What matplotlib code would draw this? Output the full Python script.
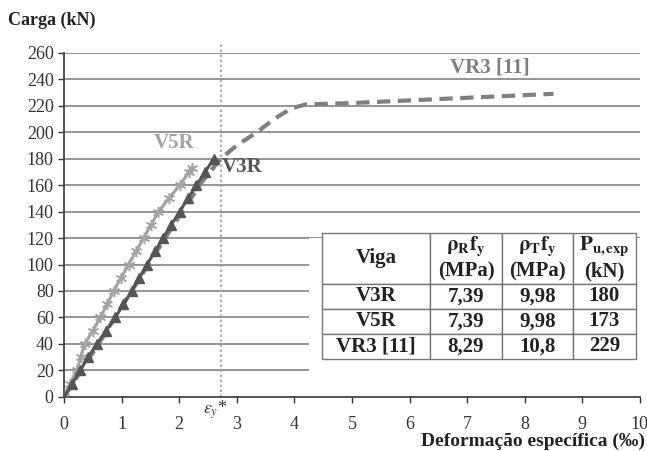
import numpy as np
import matplotlib.pyplot as plt
from matplotlib.patches import Rectangle

plt.rcParams['font.family'] = ['Liberation Serif', 'DejaVu Serif']
plt.rcParams['mathtext.fontset'] = 'stix'

# --- datos ---
v3r_def = [0, 0.14, 0.28, 0.42, 0.57, 0.73, 0.89, 1.03, 1.18, 1.31, 1.44, 1.58, 1.72, 1.86, 2.01, 2.15, 2.30, 2.45, 2.60]
v3r_carga = [0, 10, 20, 30, 40, 50, 60, 70, 80, 90, 100, 110, 120, 130, 140, 150, 160, 170, 180]

v5r_def = [0, 0.10, 0.22, 0.29, 0.36, 0.50, 0.63, 0.75, 0.86, 0.99, 1.12, 1.25, 1.38, 1.51, 1.64, 1.82, 2.01, 2.17, 2.22]
v5r_carga = [0, 10, 20, 30, 40, 50, 60, 70, 80, 90, 100, 110, 120, 130, 140, 150, 160, 170, 173]

vr3_def = [0, 0.6, 1.2, 1.8, 2.35, 2.72, 3.0, 3.35, 3.65, 3.95, 4.2, 5.0, 6.0, 7.0, 8.0, 8.5]
vr3_carga = [0, 40, 82, 123, 160, 180, 190, 200, 210, 218, 221, 222, 224, 226, 228, 229]

eps_y = 2.72

tabla_filas = [['V3R', '7,39', '9,98', '180'],
               ['V5R', '7,39', '9,98', '173'],
               ['VR3 [11]', '8,29', '10,8', '229']]
tabla_cab = ['Viga', '$\\mathbf{\\rho_R f_y}$\n(MPa)', '$\\mathbf{\\rho_T f_y}$\n(MPa)', '$\\mathbf{P_{u,exp}}$\n(kN)']

fig = plt.figure(figsize=(6.47, 4.51), dpi=100, facecolor='white')
ax = fig.add_axes([0.099, 0.12, 0.89, 0.763])

for y in range(20, 261, 20):
    ax.axhline(y, color='#8c8c8c', lw=1.3, zorder=1)
ax.axvline(eps_y, color='#a0a0a0', lw=1.2, ls=(0, (1.5, 1.5)), ymax=1.03, clip_on=False, zorder=2)

ax.plot(vr3_def, vr3_carga, color='#7f7f7f', lw=3, ls=(0, (3.2, 1.8)), zorder=3)
ax.plot(v5r_def, v5r_carga, color='#a3a3a3', lw=2.2, marker=(6, 2, 0), ms=8, mew=1.1, zorder=4)
ax.plot(v3r_def, v3r_carga, color='#555555', lw=2.2, marker='^', ms=7, zorder=5)

ax.text(1.55, 192, 'V5R', color='#a3a3a3', fontsize=15, fontweight='bold', va='center')
ax.text(2.74, 174, 'V3R', color='#555555', fontsize=15, fontweight='bold', va='center')
ax.text(6.7, 249, 'VR3 [11]', color='#7f7f7f', fontsize=15, fontweight='bold', va='center')
ax.text(eps_y - 0.1, -1.5, '$\\varepsilon_y$*', fontsize=13, ha='center', va='top', color='#333333')

ax.set_xlim(0, 10)
ax.set_ylim(0, 260)
ax.set_xticks(range(0, 11))
ax.set_yticks(range(0, 261, 20))
ax.tick_params(labelsize=13, colors='#333333', length=4, width=1)
ax.tick_params(axis='x', pad=10)
for s in ['top', 'right']:
    ax.spines[s].set_visible(False)
for s in ['left', 'bottom']:
    ax.spines[s].set_color('#444444')
    ax.spines[s].set_linewidth(1.3)

# fondo blanco tras la tabla
ax.add_patch(Rectangle((4.25, 15), 5.8, 105, facecolor='white', edgecolor='none', zorder=6))
tab = ax.table(cellText=tabla_filas, colLabels=tabla_cab, cellLoc='center',
               colWidths=[108, 72, 71, 63], bbox=[0.448, 0.11, 0.545, 0.367], zorder=7)
tab.auto_set_font_size(False)
for (r, c), cell in tab.get_celld().items():
    cell.set_edgecolor('#777777')
    cell.set_linewidth(1)
    cell.get_text().set_fontsize(15)
    cell.get_text().set_fontweight('bold')
    cell.get_text().set_color('#222222')
heights = [51, 25, 25, 25]
total = sum(heights)
for (r, c), cell in tab.get_celld().items():
    cell.set_height(0.367 * heights[r] / total)

fig.text(0.012, 0.955, 'Carga (kN)', fontsize=13, fontweight='bold', color='#222222', va='center')
fig.text(0.997, 0.022, 'Deformação específica (‰)', fontsize=14, fontweight='bold', color='#222222', ha='right', va='center')

fig.savefig('out.png', dpi=100)
